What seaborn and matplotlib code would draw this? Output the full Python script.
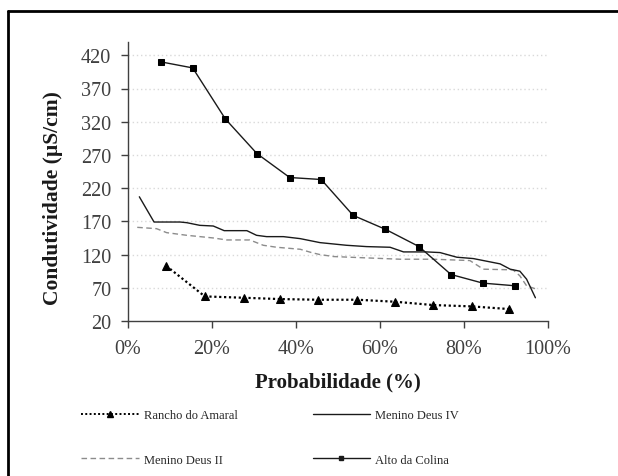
import numpy as np
import pandas as pd
import matplotlib
matplotlib.use("Agg")
import matplotlib.pyplot as plt
from matplotlib.ticker import PercentFormatter, MultipleLocator
from matplotlib.lines import Line2D
import seaborn as sns

# ---- data ----
alto_x = [7.9, 15.4, 23.2, 30.7, 38.5, 46.0, 53.6, 61.3, 69.3, 76.9, 84.5, 92.2]
alto_y = [410, 401, 324, 272, 236, 233, 179, 158, 132, 90, 77, 73]

rancho_x = [9.1, 18.3, 27.5, 36.3, 45.3, 54.6, 63.6, 72.7, 81.8, 90.7]
rancho_y = [103, 57, 55, 53, 52, 52, 49, 44, 42, 38]

md4_x = [2.7, 6.2, 12.4, 14.0, 17.1, 20.3, 22.9, 28.3, 30.6, 33.0, 37.0, 41.0,
         45.7, 52.0, 56.8, 62.4, 65.6, 71.1, 74.3, 78.3, 82.2, 85.4, 88.6,
         91.0, 93.3, 94.9, 97.0]
md4_y = [207, 169, 169, 168, 164, 163, 156, 156, 149, 147, 147, 144,
         138, 134, 132, 131, 124, 124, 123, 116, 114, 110, 106,
         98, 95, 83, 55]

md2_x = [2.2, 6.8, 9.2, 14.0, 20.3, 23.5, 29.0, 32.2, 35.4, 41.0, 43.7, 45.7,
         49.0, 56.8, 64.8, 72.7, 81.4, 84.6, 91.7, 93.3, 94.9, 97.7]
md2_y = [161, 159, 153, 149, 145, 142, 142, 134, 131, 128, 123, 120,
         117, 115, 113, 113, 111, 98, 97, 88, 73, 67]

labels = ["Rancho do Amaral", "Menino Deus IV", "Menino Deus II", "Alto da Colina"]
y_ticks = [20, 70, 120, 170, 220, 270, 320, 370, 420]

# ---- figure ----
sns.set_theme(style="white")
plt.rcParams["font.family"] = ["Liberation Serif", "DejaVu Serif"]

fig = plt.figure(figsize=(6.18, 4.77), dpi=100)
ax = fig.add_axes([128/618, 1-322/477, (548-128)/618, (322-43)/477])

df_r = pd.DataFrame({"x": rancho_x, "y": rancho_y})
df_4 = pd.DataFrame({"x": md4_x, "y": md4_y})
df_2 = pd.DataFrame({"x": md2_x, "y": md2_y})
df_a = pd.DataFrame({"x": alto_x, "y": alto_y})

sns.lineplot(data=df_2, x="x", y="y", ax=ax, color="#8c8c8c", linestyle=(0, (4, 2.5)),
             linewidth=1.0, sort=False)
sns.lineplot(data=df_4, x="x", y="y", ax=ax, color="#1a1a1a", linewidth=1.0, sort=False)
sns.lineplot(data=df_a, x="x", y="y", ax=ax, color="#1a1a1a", linewidth=1.0, sort=False,
             marker="s", markersize=5, markeredgecolor="black", markerfacecolor="black")
sns.lineplot(data=df_r, x="x", y="y", ax=ax, color="black", linestyle=(0, (1, 1.2)),
             linewidth=1.6, sort=False, marker="^", markersize=6,
             markeredgecolor="black", markerfacecolor="black")

ax.set_xlim(0, 100)
ax.set_ylim(20, 440)
ax.set_yticks(y_ticks)
ax.xaxis.set_major_locator(MultipleLocator(20))
ax.xaxis.set_major_formatter(PercentFormatter(100, decimals=0))

for y in y_ticks[1:]:
    ax.axhline(y, color="#d9d9d9", linestyle=(0, (1, 2)), linewidth=1.0, zorder=0)

for s in ["top", "right"]:
    ax.spines[s].set_visible(False)
for s in ["left", "bottom"]:
    ax.spines[s].set_color("#404040")
    ax.spines[s].set_linewidth(1.0)

ax.tick_params(axis="both", direction="out", length=5, width=1, color="#404040",
               labelsize=14.5, labelcolor="#404040", left=True, bottom=True)
ax.tick_params(axis="y", pad=7)
ax.tick_params(axis="x", pad=8)

ax.set_xlabel("Probabilidade (%)", fontsize=15, fontweight="bold", labelpad=10,
              color="#1a1a1a")
ax.set_ylabel("Condutividade (µS/cm)", fontsize=15.5, fontweight="bold", labelpad=12,
              color="#1a1a1a")
ax.yaxis.set_label_coords(-0.155, 0.444)

# legend
handles = [
    Line2D([], [], color="black", linestyle=(0, (1, 1.2)), linewidth=1.4, marker="^", markersize=4),
    Line2D([], [], color="#1a1a1a", linewidth=1.0),
    Line2D([], [], color="#8c8c8c", linestyle=(0, (4, 2.5)), linewidth=1.0),
    Line2D([], [], color="#1a1a1a", linewidth=1.0, marker="s", markersize=3),
]
order = [0, 2, 1, 3]
leg = fig.legend([handles[i] for i in order], [labels[i] for i in order],
                 ncol=2, loc="upper left", bbox_to_anchor=(70/618, 1-399/477),
                 frameon=False, fontsize=9, handlelength=4.6, columnspacing=6.0,
                 labelspacing=2.6, handletextpad=0.4)

# outer border (left and top only visible)
fig.add_artist(Line2D([8/618, 8/618], [0, 1-12/477], transform=fig.transFigure,
                      color="black", linewidth=2))
fig.add_artist(Line2D([8/618, 1], [1-12/477, 1-12/477], transform=fig.transFigure,
                      color="black", linewidth=2))

fig.savefig("out.png", dpi=100)
